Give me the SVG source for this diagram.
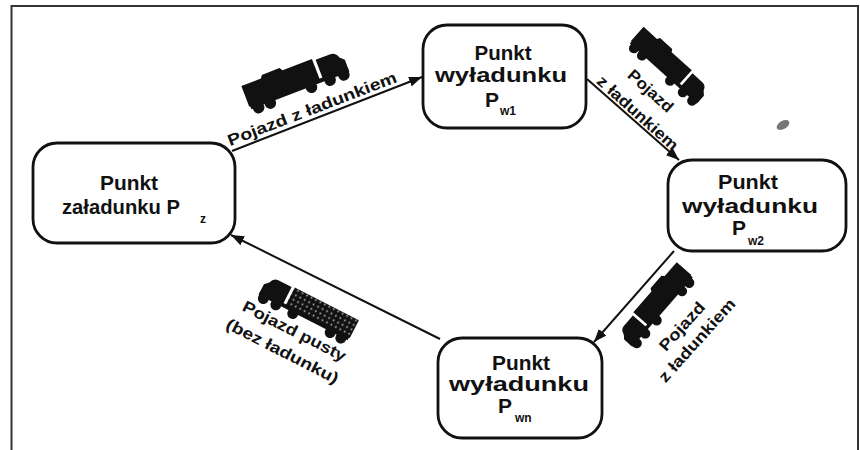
<svg xmlns="http://www.w3.org/2000/svg" width="860" height="450" viewBox="0 0 860 450">
<style>
.node rect{fill:#fff;stroke:#111;stroke-width:2.8}
.nt{font-family:"Liberation Sans",Arial,sans-serif;font-weight:bold;font-size:21px;fill:#111;text-anchor:middle}
.ns{text-anchor:start}
.sub{font-family:"Liberation Sans",Arial,sans-serif;font-weight:bold;font-size:12px;fill:#111}
.lbl{font-family:"Liberation Sans",Arial,sans-serif;font-weight:bold;font-size:16px;fill:#111;text-anchor:middle}
.conn{stroke:#111;stroke-width:2;fill:none;marker-end:url(#arr)}
.truck{fill:#111}
</style>
<defs>
<marker id="arr" markerUnits="userSpaceOnUse" markerWidth="14" markerHeight="10" refX="13" refY="5" orient="auto">
<path d="M0,0 L13,5 L0,10 Z" fill="#111"/>
</marker>
<pattern id="dots" patternUnits="userSpaceOnUse" width="5" height="5">
<rect width="5" height="5" fill="#111"/>
<circle cx="2.5" cy="2.5" r="0.9" fill="#bbb"/>
</pattern>
<g id="truckFull">
<path d="M-50,-15 L-30,-15 L-28,-18 L-10,-18 L-8,-15 L22,-15 L22,6 L-50,6 Z"/>
<path d="M25,-13 L40,-13 Q45,-13 47,-7 L51,-3 L51,7 L25,7 Z"/>
<rect x="-49" y="5" width="100" height="4"/>
<circle cx="-42" cy="10" r="5.5"/>
<circle cx="-30" cy="10" r="5.5"/>
<circle cx="12" cy="10" r="5.5"/>
<circle cx="31" cy="10" r="5.5"/>
<circle cx="45" cy="10" r="5.5"/>
</g>
<g id="truckEmpty">
<path d="M-50,-14 L22,-14 L22,6 L-50,6 Z" fill="url(#dots)"/>
<path d="M25,-13 L40,-13 Q45,-13 47,-7 L51,-3 L51,7 L25,7 Z"/>
<rect x="-49" y="5" width="100" height="4"/>
<circle cx="-42" cy="10" r="5.5"/>
<circle cx="-30" cy="10" r="5.5"/>
<circle cx="12" cy="10" r="5.5"/>
<circle cx="31" cy="10" r="5.5"/>
<circle cx="45" cy="10" r="5.5"/>
</g>
</defs>
<rect x="0" y="0" width="860" height="450" fill="#fff"/>
<rect x="11.5" y="6" width="846.5" height="470" fill="none" stroke="#333" stroke-width="2"/>
<ellipse cx="783" cy="125" rx="7" ry="4" transform="rotate(-30 783 125)" fill="#777"/>

<g id="connectors">
<path class="conn" d="M232,151 L422,77"/>
<path class="conn" d="M587,79 L679,160"/>
<path class="conn" d="M674,251 L594,342"/>
<path class="conn" d="M440,339 L231,235"/>
</g>

<g id="trucks" class="truck">
<use href="#truckFull" transform="translate(296,82) rotate(-21) scale(1.05)"/>
<use href="#truckFull" transform="translate(668,67) rotate(42) scale(0.9)"/>
<use href="#truckFull" transform="translate(657,306) rotate(-49) scale(-0.92,0.92)"/>
<use href="#truckEmpty" transform="translate(308,310) rotate(27) scale(-1,1)"/>
</g>

<g id="labels">
<text class="lbl" transform="translate(314,114) rotate(-21)" textLength="180" lengthAdjust="spacingAndGlyphs">Pojazd z ładunkiem</text>
<text class="lbl" transform="translate(647,95) rotate(42)" textLength="55" lengthAdjust="spacingAndGlyphs">Pojazd</text>
<text class="lbl" transform="translate(634,117) rotate(42)" textLength="103" lengthAdjust="spacingAndGlyphs">z ładunkiem</text>
<text class="lbl" transform="translate(686,330) rotate(-48)" textLength="60" lengthAdjust="spacingAndGlyphs">Pojazd</text>
<text class="lbl" transform="translate(701,344) rotate(-48)" textLength="106" lengthAdjust="spacingAndGlyphs">z ładunkiem</text>
<text class="lbl" transform="translate(292,336) rotate(27)" textLength="114" lengthAdjust="spacingAndGlyphs">Pojazd pusty</text>
<text class="lbl" transform="translate(280,356) rotate(27)" textLength="124" lengthAdjust="spacingAndGlyphs">(bez ładunku)</text>
</g>

<g id="node-pz" class="node">
<rect x="33" y="143" width="202" height="100" rx="24"/>
<text class="nt" x="129" y="190" textLength="58" lengthAdjust="spacingAndGlyphs">Punkt</text>
<text class="nt ns" x="62" y="214" textLength="118" lengthAdjust="spacingAndGlyphs">załadunku P</text>
<text class="sub" x="200" y="223">z</text>
</g>

<g id="node-pw1" class="node">
<rect x="423" y="25" width="163" height="103" rx="24"/>
<text class="nt" x="503" y="60" textLength="57" lengthAdjust="spacingAndGlyphs">Punkt</text>
<text class="nt" x="501" y="82" textLength="132" lengthAdjust="spacingAndGlyphs">wyładunku</text>
<text class="nt ns" x="485" y="107">P</text>
<text class="sub" x="500" y="115">w1</text>
</g>

<g id="node-pw2" class="node">
<rect x="668" y="160" width="178" height="91" rx="24"/>
<text class="nt" x="748" y="189" textLength="60" lengthAdjust="spacingAndGlyphs">Punkt</text>
<text class="nt" x="750" y="213" textLength="136" lengthAdjust="spacingAndGlyphs">wyładunku</text>
<text class="nt ns" x="732" y="235">P</text>
<text class="sub" x="748" y="245">w2</text>
</g>

<g id="node-pwn" class="node">
<rect x="438" y="338" width="164" height="100" rx="24"/>
<text class="nt" x="521" y="370" textLength="58" lengthAdjust="spacingAndGlyphs">Punkt</text>
<text class="nt" x="519" y="391" textLength="140" lengthAdjust="spacingAndGlyphs">wyładunku</text>
<text class="nt ns" x="498" y="413">P</text>
<text class="sub" x="515" y="422">wn</text>
</g>
</svg>
